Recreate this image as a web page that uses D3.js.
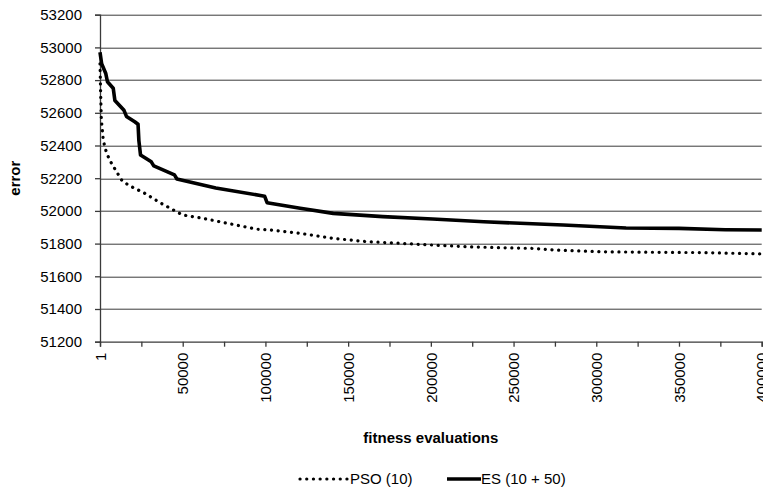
<!DOCTYPE html>
<html>
<head>
<meta charset="utf-8">
<script src="https://cdn.jsdelivr.net/npm/d3@7"></script>
<style>
    body { margin: 0; background: #fff; }
    text { font-family: "Liberation Sans", Arial, sans-serif; fill: #000; }
</style>
</head>
<body>
<div id="chart"></div>
<script>
// Series: [fitness evaluations, error]
const psoSeries = [
    [1, 52900], [300, 52760], [800, 52560], [2000, 52430], [4000, 52352],
    [7000, 52290], [13000, 52190], [17000, 52158], [27000, 52108],
    [37000, 52046], [50000, 51975], [62000, 51955], [82000, 51914],
    [95000, 51888], [103000, 51883], [121000, 51863], [141000, 51832],
    [161000, 51812], [181000, 51802], [201000, 51791], [222000, 51781],
    [242000, 51775], [260000, 51771], [274000, 51761], [304000, 51750],
    [334000, 51747], [365000, 51745], [400000, 51737]
];

const esSeries = [
    [1, 52970], [1000, 52900], [3500, 52840], [4500, 52790], [8000, 52750],
    [9000, 52675], [14500, 52615], [16000, 52578], [21000, 52545],
    [23000, 52530], [23500, 52430], [24500, 52342], [31000, 52300],
    [32500, 52275], [45000, 52220], [46500, 52195], [70000, 52140],
    [99500, 52090], [101000, 52050], [121000, 52016], [141000, 51985],
    [171000, 51965], [201000, 51950], [232000, 51934], [254000, 51924],
    [280000, 51914], [318000, 51895], [350000, 51893], [378000, 51885],
    [400000, 51883]
];

const yTicks = [51200, 51400, 51600, 51800, 52000, 52200, 52400, 52600, 52800, 53000, 53200];
const xTicks = [0, 25000, 50000, 75000, 100000, 125000, 150000, 175000, 200000,
    225000, 250000, 275000, 300000, 325000, 350000, 375000, 400000];
const xTickLabels = ["1", "", "50000", "", "100000", "", "150000", "", "200000",
    "", "250000", "", "300000", "", "350000", "", "400000"];

const legendItems = [
    { name: "PSO (10)", series: "pso" },
    { name: "ES (10 + 50)", series: "es" }
];

const width = 763;
const height = 491;
const margin = { top: 14.7, left: 100, right: 1.3, bottom: 149.3 };
const plotW = width - margin.left - margin.right;
const plotH = height - margin.top - margin.bottom;

const x = d3.scaleLinear().domain([0, 400000]).range([0, plotW]);
const y = d3.scaleLinear().domain([51200, 53200]).range([plotH, 0]);

const styles = {
    pso: { width: 3.2, dash: "0.1,6.6", cap: "round" },
    es: { width: 3.6, dash: null, cap: "butt" }
};

const svg = d3.select("#chart").append("svg")
    .attr("width", width)
    .attr("height", height);

const g = svg.append("g")
    .attr("transform", "translate(" + margin.left + "," + margin.top + ")");

// Horizontal gridlines
g.append("g")
    .selectAll("line")
    .data(yTicks.slice(1))
    .join("line")
    .attr("x1", 0)
    .attr("x2", plotW)
    .attr("y1", d => Math.round(y(d)) + 0.5)
    .attr("y2", d => Math.round(y(d)) + 0.5)
    .style("stroke", "#3a3a3a")
    .style("stroke-width", 1);

// Y axis
const yAxis = g.append("g")
    .call(d3.axisLeft(y).tickValues(yTicks).tickSize(5).tickPadding(13).tickFormat(d3.format("d")));
yAxis.selectAll("text").style("font-size", "15px");

// X axis
const xAxis = g.append("g")
    .attr("transform", "translate(0," + plotH + ")")
    .call(d3.axisBottom(x).tickValues(xTicks).tickSize(5).tickFormat((d, i) => xTickLabels[i]));
xAxis.selectAll("text")
    .style("font-size", "15px")
    .style("text-anchor", "end")
    .attr("transform", "rotate(-90)")
    .attr("x", -11)
    .attr("y", 0)
    .attr("dy", "0.35em");

[yAxis, xAxis].forEach(a => {
    a.select(".domain").style("stroke", "#3a3a3a").style("stroke-width", 1.3);
    a.selectAll(".tick line").style("stroke", "#3a3a3a").style("stroke-width", 1.3);
});

// Series lines
const line = d3.line()
    .x(d => x(d[0]))
    .y(d => y(d[1]));

g.append("path")
    .attr("d", line(psoSeries))
    .style("fill", "none")
    .style("stroke", "#000")
    .style("stroke-width", styles.pso.width)
    .style("stroke-dasharray", styles.pso.dash)
    .style("stroke-linecap", styles.pso.cap);

g.append("path")
    .attr("d", line(esSeries))
    .style("fill", "none")
    .style("stroke", "#000")
    .style("stroke-width", styles.es.width)
    .style("stroke-linejoin", "round");

// Axis titles
svg.append("text")
    .attr("transform", "translate(20," + (margin.top + plotH / 2) + ") rotate(-90)")
    .style("text-anchor", "middle")
    .style("font-size", "15px")
    .style("font-weight", "bold")
    .text("error");

svg.append("text")
    .attr("x", margin.left + plotW / 2)
    .attr("y", 443)
    .style("text-anchor", "middle")
    .style("font-size", "15px")
    .style("font-weight", "bold")
    .text("fitness evaluations");

// Legend
const legendPos = [
    { x1: 300, x2: 347, tx: 350 },
    { x1: 447, x2: 481, tx: 481 }
];
const legend = svg.append("g").attr("transform", "translate(0,479)");
legendItems.forEach((item, i) => {
    const s = styles[item.series];
    const p = legendPos[i];
    legend.append("line")
        .attr("x1", p.x1)
        .attr("x2", p.x2)
        .attr("y1", 0)
        .attr("y2", 0)
        .style("stroke", "#000")
        .style("stroke-width", s.width)
        .style("stroke-dasharray", s.dash)
        .style("stroke-linecap", s.cap);
    legend.append("text")
        .attr("x", p.tx)
        .attr("y", 0)
        .attr("dy", "0.35em")
        .style("font-size", "15px")
        .text(item.name);
});
</script>
</body>
</html>
